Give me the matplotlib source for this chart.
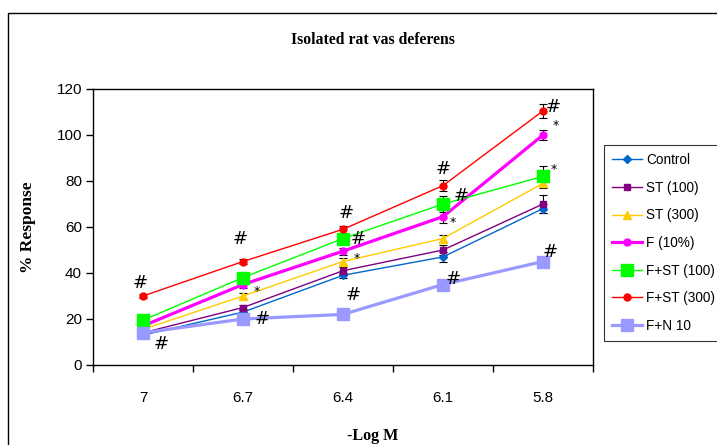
import numpy as np
import matplotlib.pyplot as plt
from matplotlib.patches import Rectangle

categories = ['7', '6.7', '6.4', '6.1', '5.8']
series_names = ['Control', 'ST (100)', 'ST (300)', 'F (10%)', 'F+ST (100)', 'F+ST (300)', 'F+N 10']

control = [13, 23, 39, 47, 68]
st100 = [14, 25, 41, 50, 70]
st300 = [15.5, 30, 45, 55, 79]
f10 = [17, 35, 49.5, 64.5, 100]
fst100 = [19.5, 38, 55, 70, 82]
fst300 = [30, 45, 59, 78, 110.5]
fn10 = [14, 20, 22, 35, 45]

control_err = [1, 1.2, 1.2, 2, 2]
st100_err = [1, 1.2, 1.5, 2, 4]
st300_err = [1, 1.5, 1.5, 1.5, 2]
f10_err = [1, 1.5, 1.5, 2.7, 2.3]
fst100_err = [1.5, 1.5, 2.5, 3.5, 4.5]
fst300_err = [1, 1, 1.5, 2.3, 3]
fn10_err = [1, 1, 1, 1, 1]

# (category index, value it sits beside, symbol, x offset pt, y offset pt)
marks = [
    (0, 30, '#', -2, 9), (0, 14, '#', 13, -8),
    (1, 45, '#', -2, 16), (1, 30, '*', 10, 3), (1, 20, '#', 14, 0),
    (2, 59, '#', 2, 12), (2, 55, '#', 11, 0), (2, 45, '*', 10, 2), (2, 22, '#', 7, 14),
    (3, 78, '#', 0, 12), (3, 70, '#', 13, 6), (3, 64.5, '*', 7, -4), (3, 35, '#', 7, 4),
    (4, 110.5, '#', 7, 3), (4, 100, '*', 9, 7), (4, 82, '*', 8, 5), (4, 45, '#', 5, 7),
]

plt.rcParams['font.family'] = ['Liberation Sans', 'DejaVu Sans']

fig = plt.figure(figsize=(7.17, 4.45), dpi=100)
fig.patches.append(Rectangle((8 / 717, -0.01), 1.0, (445 - 13) / 445 + 0.01,
                             transform=fig.transFigure, fill=False,
                             edgecolor='black', linewidth=1.0))
ax = fig.add_axes([93 / 717, 80 / 445, 500 / 717, 276 / 445])

x = np.arange(len(categories))
styles = [
    (control, control_err, '#0066CC', 'D', 4, 1.0),
    (st100, st100_err, '#800080', 's', 5, 1.0),
    (st300, st300_err, '#FFCC00', '^', 5.5, 1.0),
    (f10, f10_err, '#FF00FF', 'o', 5, 2.3),
    (fst100, fst100_err, '#00FF00', 's', 8, 1.0),
    (fst300, fst300_err, '#FF0000', 'o', 5, 1.0),
    (fn10, fn10_err, '#9999FF', 's', 8.5, 2.3),
]
for name, (vals, errs, col, mk, ms, lw) in zip(series_names, styles):
    ax.errorbar(x, vals, yerr=errs, fmt='none', ecolor='black', elinewidth=0.8,
                capsize=3, capthick=0.8, zorder=2)
    ax.plot(x, vals, color=col, marker=mk, markersize=ms, linewidth=lw,
            markeredgecolor=col, label=name, zorder=3)

for i, v, s, dx, dy in marks:
    ax.annotate(s, (x[i], v), xytext=(dx, dy), textcoords='offset points',
                ha='center', va='center', fontsize=13 if s == '#' else 9,
                family='DejaVu Sans', zorder=5)

ax.set_xlim(-0.5, 4.5)
ax.set_ylim(0, 120)
ax.set_yticks(range(0, 121, 20))
ax.set_xticks(x)
ax.set_xticklabels(categories)
ax.set_xticks(np.arange(-0.5, 4.6, 1), minor=True)
ax.tick_params(axis='x', which='major', length=0, pad=19, labelsize=11)
ax.tick_params(axis='x', which='minor', length=5, direction='out', width=1)
ax.tick_params(axis='y', length=5, direction='out', width=1, labelsize=11, pad=3)
for sp in ax.spines.values():
    sp.set_linewidth(1.0)

fig.text(373 / 717, 1 - 40 / 445, 'Isolated rat vas deferens', ha='center', va='center',
         fontsize=11.3, fontweight='bold', family='Liberation Serif')
fig.text(28 / 717, 1 - 227 / 445, '% Response', ha='center', va='center', rotation=90,
         fontsize=12.5, fontweight='bold', family='Liberation Serif')
fig.text(373 / 717, 1 - 436 / 445, '-Log M', ha='center', va='center',
         fontsize=11.5, fontweight='bold', family='Liberation Serif')

leg = fig.legend(loc='upper left', bbox_to_anchor=(604 / 717, 1 - 145 / 445),
                 frameon=True, fancybox=False, edgecolor='black', fontsize=9.8,
                 handlelength=2.2, labelspacing=1.0, borderpad=0.6, handletextpad=0.3,
                 borderaxespad=0)
leg.get_frame().set_linewidth(0.8)

fig.savefig('out.png', dpi=100)
